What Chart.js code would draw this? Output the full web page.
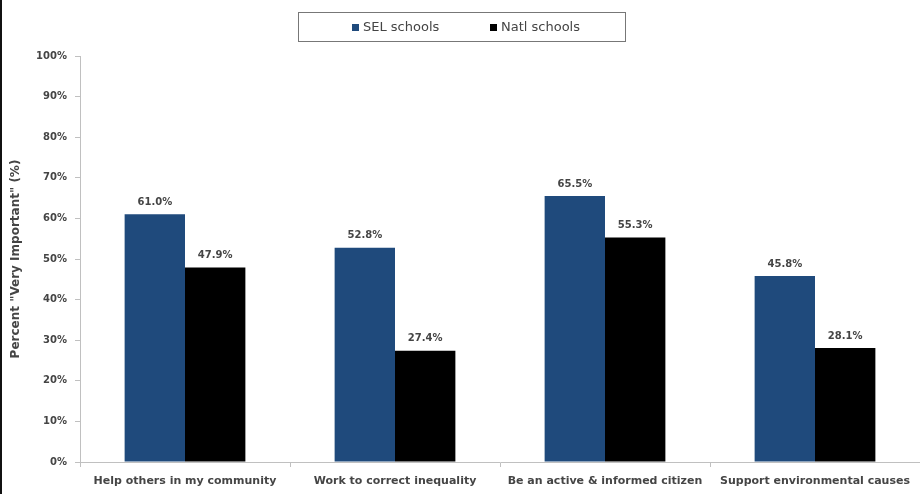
<!DOCTYPE html>
<html>
<head>
<meta charset="utf-8">
<script src="https://cdn.jsdelivr.net/npm/chart.js@4.4.1/dist/chart.umd.min.js"></script>
<style>
  html, body { margin: 0; padding: 0; background: #fff; }
  #wrap { position: relative; width: 920px; height: 494px; box-sizing: border-box; border-left: 2px solid #111; }
  canvas { display: block; }
</style>
</head>
<body>
<div id="wrap"><canvas id="chart" width="918" height="494"></canvas></div>
<script>
const categories = ["Help others in my community", "Work to correct inequality", "Be an active & informed citizen", "Support environmental causes"]
const selSchools = [61.0, 52.8, 65.5, 45.8]
const natlSchools = [47.9, 27.4, 55.3, 28.1]
const yTicks = [0, 10, 20, 30, 40, 50, 60, 70, 80, 90, 100]

const fontFam = "'DejaVu Sans', sans-serif"
const textColor = '#454545'

// draws the value above each bar
const barLabels = {
    id: 'barLabels',
    afterDatasetsDraw(chart) {
        let ctx = chart.ctx
        ctx.save()
        ctx.font = "bold 10px " + fontFam
        ctx.fillStyle = textColor
        ctx.textAlign = 'center'
        ctx.textBaseline = 'bottom'
        chart.data.datasets.forEach(function(ds, i) {
            chart.getDatasetMeta(i).data.forEach(function(bar, j) {
                ctx.fillText(ds.data[j].toFixed(1) + '%', bar.x, bar.y - 7)
            })
        })
        ctx.restore()
    }
}

// boxed legend, items spread out like the original
const legendBox = {
    id: 'legendBox',
    afterDraw(chart) {
        let ctx = chart.ctx
        let itemX = [350, 488]
        ctx.save()
        ctx.strokeStyle = '#777'
        ctx.lineWidth = 1
        ctx.strokeRect(296.5, 12.5, 327, 29)
        ctx.font = "13px " + fontFam
        ctx.textBaseline = 'middle'
        ctx.textAlign = 'left'
        chart.data.datasets.forEach(function(ds, i) {
            ctx.fillStyle = ds.backgroundColor
            ctx.fillRect(itemX[i], 24, 7, 7)
            ctx.fillStyle = '#444'
            ctx.fillText(ds.label, itemX[i] + 11, 28)
        })
        ctx.restore()
    }
}

let ctx = document.getElementById('chart').getContext('2d')
let chart = new Chart(ctx, {
    type: 'bar',
    data: {
        labels: categories,
        datasets: [{
            label: 'SEL schools',
            data: selSchools,
            backgroundColor: '#1f4a7c',
            borderWidth: 0
        }, {
            label: 'Natl schools',
            data: natlSchools,
            backgroundColor: '#000000',
            borderWidth: 0
        }]
    },
    options: {
        responsive: false,
        animation: false,
        devicePixelRatio: 1,
        layout: { padding: { top: 56, right: 0, left: 0, bottom: 0 } },
        datasets: {
            bar: { categoryPercentage: 0.575, barPercentage: 1.0 }
        },
        plugins: {
            legend: { display: false },
            tooltip: { enabled: false }
        },
        scales: {
            x: {
                grid: { display: true, drawOnChartArea: false, drawTicks: true, tickLength: 5, color: '#c0c0c0', offset: true },
                border: { color: '#c0c0c0' },
                ticks: { color: textColor, padding: 8, maxRotation: 0, autoSkip: false, font: { family: fontFam, size: 11, weight: 'bold' } },
                afterFit(scale) { scale.height = 32 }
            },
            y: {
                min: 0,
                max: 100,
                afterBuildTicks(scale) { scale.ticks = yTicks.map(v => ({ value: v })) },
                grid: { display: true, drawOnChartArea: false, drawTicks: true, tickLength: 5, color: '#c0c0c0' },
                border: { color: '#c0c0c0' },
                ticks: {
                    color: textColor,
                    padding: 8,
                    font: { family: fontFam, size: 10, weight: 'bold' },
                    callback: v => v + '%'
                },
                title: {
                    display: true,
                    text: 'Percent "Very Important" (%)',
                    color: textColor,
                    padding: { top: 7, bottom: 0 },
                    font: { family: fontFam, size: 12, weight: 'bold' }
                },
                afterFit(scale) { scale.width = 78 }
            }
        }
    },
    plugins: [barLabels, legendBox]
})
</script>
</body>
</html>
